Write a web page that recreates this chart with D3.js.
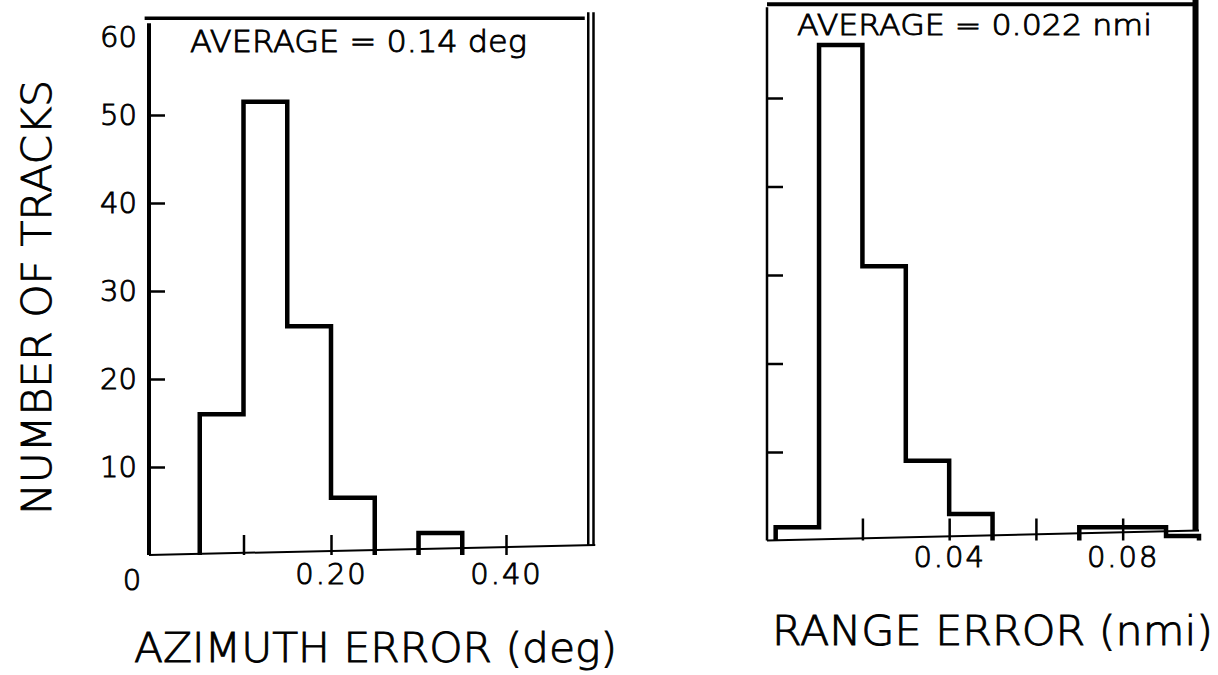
<!DOCTYPE html>
<html>
<head>
<meta charset="utf-8">
<script src="https://cdn.jsdelivr.net/npm/d3@7"></script>
<style>
  body { margin: 0; background: #fff; }
  svg text { font-family: "DejaVu Sans", sans-serif; font-weight: 200; fill: #000; stroke: #000; stroke-width: 0.9px; }
</style>
</head>
<body>
<svg class="viz" width="1218" height="675"></svg>
<script>
// histogram data
var azBinStart = [0.05, 0.10, 0.15, 0.20, 0.25, 0.30];
var azCounts   = [16, 51.5, 26, 6.5, 0, 2.5];
var azBinWidth = 0.05;

var rgBinStart = [0, 0.01, 0.02, 0.03, 0.04, 0.05, 0.06, 0.07, 0.08, 0.09];
var rgCounts   = [1.5, 56, 31, 9, 3, 0, 0, 1.5, 1.5, 0.5];
var rgBinWidth = 0.01;

var countTicks  = [10, 20, 30, 40, 50];
var countLabels = [10, 20, 30, 40, 50, 60];
var azTicks  = [0.1, 0.2, 0.3, 0.4];
var azLabels = [0.2, 0.4];
var rgTicks  = [0.02, 0.04, 0.06, 0.08];
var rgLabels = [0.04, 0.08];

var svg = d3.select(".viz");

// left panel scales
var xL = d3.scaleLinear().domain([-0.008, 0.504]).range([149, 597]);
var yL = d3.scaleLinear().domain([0, 50]).range([555, 115]);
// right panel scales
var xR = d3.scaleLinear().domain([-0.002, 0.0976]).range([767, 1199]);
var yR = d3.scaleLinear().domain([0, 50]).range([540.5, 98]);

// split bins into runs of non-zero counts, outline each run
var histPath = function (starts, counts, w, x, y) {
  var d = "", open = false, lastX = 0;
  var xmax = x.domain()[1];
  starts.forEach(function (s, i) {
    var e = Math.min(s + w, xmax);
    if (counts[i] > 0) {
      if (!open) { d += "M" + x(s) + "," + y(0); open = true; }
      d += "L" + x(s) + "," + y(counts[i]) + "L" + x(e) + "," + y(counts[i]);
      lastX = e;
    } else if (open) {
      d += "L" + x(lastX) + "," + y(0);
      open = false;
    }
  });
  if (open) d += "L" + x(lastX) + "," + y(0);
  return d;
};

var line = function (x1, y1, x2, y2, w) {
  svg.append("line")
    .attr("x1", x1).attr("y1", y1).attr("x2", x2).attr("y2", y2)
    .style("stroke", "#000").style("stroke-width", w);
};

// ---- left panel frame
var topL = yL(61);
line(xL(-0.008), topL + 5, xL(-0.008), yL(0), 4);          // left axis
line(xL(-0.013), topL, xL(0.49), topL, 3.5);                // top border
line(xL(0.494), topL - 6, xL(0.494), yL(0) - 10, 2.5);      // right border (double)
line(xL(0.5), topL - 6, xL(0.5), yL(0) - 10, 2.5);
line(xL(-0.008), yL(0), xL(0.502), yL(0) - 10, 2);          // baseline

svg.append("path")
  .attr("d", histPath(azBinStart, azCounts, azBinWidth, xL, yL))
  .style("fill", "none").style("stroke", "#000").style("stroke-width", 4.5)
  .style("stroke-linejoin", "miter");

// y axis (ticks inward, labels left)
var yAxisL = d3.axisLeft(yL).tickValues(countLabels).tickSizeInner(-16).tickSizeOuter(0).tickPadding(12);
var gyL = svg.append("g").attr("transform", "translate(" + xL(-0.008) + ",0)").call(yAxisL);
gyL.select(".domain").remove();
gyL.selectAll(".tick line").style("stroke-width", 2.5)
  .filter(function (d) { return countTicks.indexOf(d) < 0; }).remove();
gyL.selectAll(".tick text").style("font-size", "29px").attr("font-family", null);
// the 60 label sits a little under the top border in the original
gyL.selectAll(".tick text").filter(function (d) { return d === 60; }).attr("y", 10);

// x axis (ticks upward)
var xAxisL = d3.axisBottom(xL).tickValues(azTicks).tickSizeInner(-20).tickSizeOuter(0).tickPadding(8)
  .tickFormat(function (d) { return azLabels.indexOf(d) >= 0 ? d3.format(".2f")(d) : ""; });
var gxL = svg.append("g").attr("transform", "translate(0," + yL(0) + ")").call(xAxisL);
gxL.select(".domain").remove();
gxL.selectAll(".tick line").style("stroke-width", 2.5);
gxL.selectAll(".tick text").style("font-size", "29px").style("letter-spacing", "2px").attr("font-family", null);

svg.append("text")
  .attr("x", xL(-0.008) - 17).attr("y", yL(0) + 35)
  .attr("text-anchor", "middle")
  .style("font-size", "29px")
  .text("0");

svg.append("text")
  .attr("x", 190).attr("y", 52)
  .attr("textLength", 337).attr("lengthAdjust", "spacingAndGlyphs")
  .style("font-size", "30px")
  .text("AVERAGE = 0.14 deg");

svg.append("text")
  .attr("transform", "translate(51,515) rotate(-90)")
  .attr("textLength", 435).attr("lengthAdjust", "spacingAndGlyphs")
  .style("font-size", "41px")
  .text("NUMBER OF TRACKS");

svg.append("text")
  .attr("x", 134).attr("y", 662)
  .attr("textLength", 483).attr("lengthAdjust", "spacingAndGlyphs")
  .style("font-size", "41px")
  .text("AZIMUTH ERROR (deg)");

// ---- right panel frame
var topR = yR(60.6);
line(xR(-0.002), topR + 3, xR(-0.002), yR(0), 2.5);         // left axis
line(xR(-0.002), topR, xR(0.0965), topR, 4);                 // top border
line(xR(0.0968), 0, xR(0.0968), yR(0) - 10, 6);              // right border
line(xR(-0.002), yR(0), xR(0.0976), yR(0) - 10, 2);          // baseline

svg.append("path")
  .attr("d", histPath(rgBinStart, rgCounts, rgBinWidth, xR, yR))
  .style("fill", "none").style("stroke", "#000").style("stroke-width", 4.5)
  .style("stroke-linejoin", "miter");

var yAxisR = d3.axisLeft(yR).tickValues(countTicks).tickSizeInner(-16).tickSizeOuter(0).tickFormat("");
var gyR = svg.append("g").attr("transform", "translate(" + xR(-0.002) + ",0)").call(yAxisR);
gyR.select(".domain").remove();
gyR.selectAll(".tick line").style("stroke-width", 2.5);

var xAxisR = d3.axisBottom(xR).tickValues(rgTicks).tickSizeInner(-22).tickSizeOuter(0).tickPadding(6)
  .tickFormat(function (d) { return rgLabels.indexOf(d) >= 0 ? d3.format(".2f")(d) : ""; });
var gxR = svg.append("g").attr("transform", "translate(0," + yR(0) + ")").call(xAxisR);
gxR.select(".domain").remove();
gxR.selectAll(".tick line").style("stroke-width", 2.5);
gxR.selectAll(".tick text").style("font-size", "29px").style("letter-spacing", "2px").attr("font-family", null);

svg.append("text")
  .attr("x", 797).attr("y", 35)
  .attr("textLength", 355).attr("lengthAdjust", "spacingAndGlyphs")
  .style("font-size", "28px")
  .text("AVERAGE = 0.022 nmi");

svg.append("text")
  .attr("x", 772).attr("y", 645)
  .attr("textLength", 441).attr("lengthAdjust", "spacingAndGlyphs")
  .style("font-size", "41px")
  .text("RANGE ERROR (nmi)");
</script>
</body>
</html>
